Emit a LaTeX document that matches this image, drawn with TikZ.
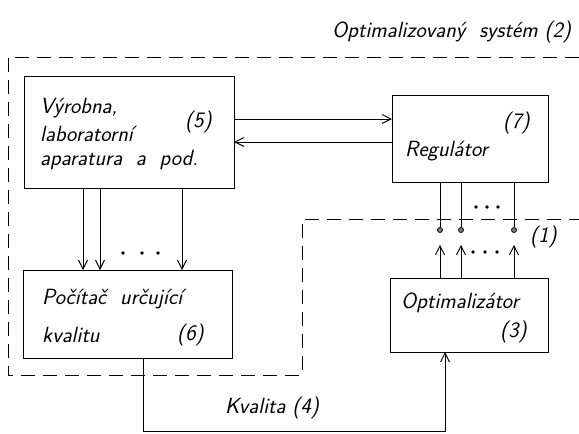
\documentclass[tikz,border=0pt]{standalone}
\usepackage{fontspec}
\usepackage{tikz}
\usetikzlibrary{arrows.meta,positioning,calc}
\tikzset{
  blok/.style   ={draw,line width=1pt,inner sep=0pt,outer sep=0pt},
  popis/.style  ={anchor=west,inner sep=0pt,font=\sffamily\itshape\fontsize{22}{24}\selectfont},
  sipka/.style  ={line width=0.9pt,-{Straight Barb[length=9pt,width=9pt]}},
  vodic/.style  ={line width=0.9pt},
  hranice/.style={line width=0.9pt,dash pattern=on 14pt off 8pt},
  svorka/.style ={circle,draw,fill=gray,minimum size=5pt,inner sep=0pt,line width=0.8pt},
}

\begin{document}
\begin{tikzpicture}[x=1pt,y=-1pt]
  \useasboundingbox (0,0) rectangle (579,434);
  % bloky
  \node[blok,minimum width=210pt,minimum height=112pt](vyr) at (129,132){};
  \node[blok,minimum width=156pt,minimum height=87pt](reg) at (470,138.5){};
  \node[blok,minimum width=209pt,minimum height=88pt](poc) at (127.5,314){};
  \node[blok,minimum width=158pt,minimum height=74pt](opt) at (469,315){};
  % popisy
  \node[popis](sys) at (332,32){Optimalizovaný\ \ systém (2)};
  \node[popis](v1) at (40,108){Výrobna,};
  \node[popis](v2) at (40,134){laboratorní};
  \node[popis](v3) at (40,160){aparatura\ \ a\ \ pod.};
  \node[popis](v5) at (185,122){(5)};
  \node[popis](r7) at (503,123){(7)};
  \node[popis](r1) at (405,151){Regulátor};
  \node[popis](p1) at (42,299){Počítač\ \ určující};
  \node[popis](p2) at (42,335){kvalitu};
  \node[popis](p6) at (177,335){(6)};
  \node[popis](o1) at (401,303){Optimalizátor};
  \node[popis](o3) at (500,332){(3)};
  \node[popis](kv) at (225,408){Kvalita (4)};
  \node[popis](s1n) at (530,237){(1)};
  % hranice systemu
  \draw[hranice] (579,57) -- (8,57) -- (8,375) -- (302,375) -- (302,219) -- (579,219);
  % vyrobna <-> regulator
  \coordinate (ya) at (0,119);
  \coordinate (yb) at (0,142);
  \draw[sipka] (vyr.east |- ya) -- (reg.west |- ya);
  \draw[sipka] (reg.west |- yb) -- (vyr.east |- yb);
  % vyrobna -> pocitac
  \foreach \x in {83,100,182}{\draw[sipka] (vyr.south -| \x,0) -- (poc.north -| \x,0);}
  \foreach \x in {123,142,158}{\fill (\x,253) circle (1.8pt);}
  % regulator, svorky, optimalizator
  \foreach \i/\x in {1/440,2/461,3/514}{
    \node[svorka](s\i) at (\x,230){};
    \draw[vodic] (reg.south -| s\i) -- (s\i);
    \coordinate (h\i) at ([yshift=-12pt]s\i.south);
    \draw[sipka] (opt.north -| s\i) -- (h\i);
  }
  \foreach \x in {476,487,498}{\fill (\x,207) circle (1.8pt);}
  \foreach \x in {473,485,497}{\fill (\x,252) circle (1.8pt);}
  % kvalita
  \coordinate (k1) at (143,431);
  \coordinate (k2) at (445,431);
  \draw[sipka] (poc.south -| k1) -- (k1) -- (k2) -- (opt.south -| k2);
\end{tikzpicture}
\end{document}
